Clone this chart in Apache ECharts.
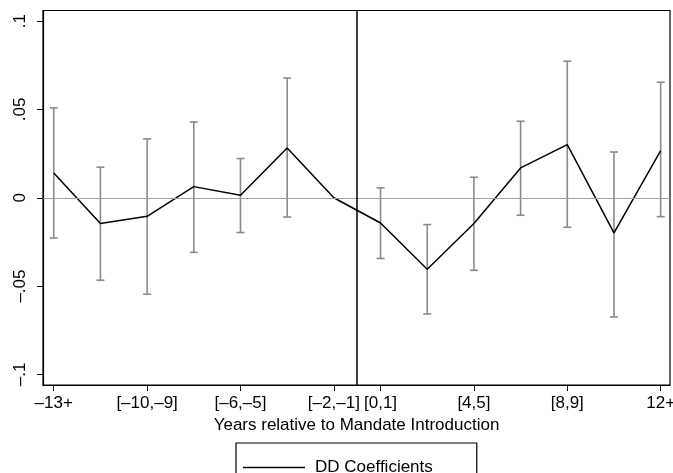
<!DOCTYPE html>
<html>
<head>
<meta charset="utf-8">
<script src="https://cdn.jsdelivr.net/npm/echarts@6/dist/echarts.min.js"></script>
<style>html,body{margin:0;padding:0;background:#fff}#c{width:673px;height:473px}</style>
</head>
<body>
<div id="c"></div>
<script>
const categories = ['–13+','[–12,–11]','[–10,–9]','[–8,–7]','[–6,–5]','[–4,–3]','[–2,–1]','[0,1]','[2,3]','[4,5]','[6,7]','[8,9]','[10,11]','12+'];
const coef  = [0.014, -0.0146, -0.0105, 0.0063, 0.0014, 0.0282, 0.0, -0.0143, -0.0405, -0.0146, 0.0169, 0.0301, -0.0199, 0.0267];
const upper = [0.0509, 0.0173, 0.0333, 0.0429, 0.0222, 0.0678, null, 0.0056, -0.0152, 0.0116, 0.0433, 0.0773, 0.0259, 0.0654];
const lower = [-0.0228, -0.0467, -0.0546, -0.0309, -0.0197, -0.0109, null, -0.0344, -0.0658, -0.0411, -0.0099, -0.0167, -0.0675, -0.0107];
const xTickIdx = [0, 2, 4, 6, 7, 9, 11, 13];
const yTickValues = [-0.1, -0.05, 0, 0.05, 0.1];
const yTickLabels = ['–.1', '–.05', '0', '.05', '.1'];
const legendName = 'DD Coefficients';
const xTitle = 'Years relative to Mandate Introduction';
const mandateBoundary = 6.5;

const font = 'Liberation Sans, Arial, Helvetica, sans-serif';
const fs = 17;
const chart = echarts.init(document.getElementById('c'));

const lineData = categories.map((c, i) => [i, coef[i]]);
const ciData = [];
categories.forEach((c, i) => { if (upper[i] !== null) ciData.push([i, lower[i], upper[i]]); });

chart.setOption({
  animation: false,
  backgroundColor: '#fff',
  textStyle: { fontFamily: font },
  grid: { left: 43, right: 3, top: 10.5, bottom: 88, outerBoundsMode: 'none', containLabel: false,
          show: true, borderColor: '#000', borderWidth: 1.2, backgroundColor: 'transparent' },
  xAxis: {
    type: 'value', min: -0.23, max: 13.2,
    name: xTitle, nameLocation: 'middle', nameGap: 30,
    nameTextStyle: { color: '#000', fontSize: fs, fontFamily: font },
    axisLine: { show: true, onZero: false, lineStyle: { color: '#000', width: 1.2 } },
    axisTick: { show: true, length: 6, lineStyle: { color: '#000' }, customValues: xTickIdx },
    axisLabel: { color: '#000', fontSize: fs, margin: 10, customValues: xTickIdx, hideOverlap: false, formatter: v => categories[Math.round(v)] },
    splitLine: { show: false }
  },
  yAxis: {
    type: 'value', min: -0.106, max: 0.106,
    axisLine: { show: true, onZero: false, lineStyle: { color: '#000', width: 1.2 } },
    axisTick: { show: true, length: 6, lineStyle: { color: '#000' }, customValues: yTickValues },
    axisLabel: { color: '#000', fontSize: fs, rotate: 90, margin: 14, customValues: yTickValues,
      formatter: v => { const k = yTickValues.findIndex(t => Math.abs(t - v) < 1e-9); return k >= 0 ? yTickLabels[k] : ''; } },
    splitLine: { show: false }
  },
  legend: {
    show: true, left: 236, top: 443, orient: 'horizontal',
    data: [{ name: legendName, icon: 'rect', itemStyle: { color: '#000' } }],
    itemWidth: 62, itemHeight: 1.5,
    borderColor: '#000', borderWidth: 1.2, padding: [16, 44, 16, 7],
    textStyle: { color: '#000', fontSize: fs, fontFamily: font, padding: [0, 0, 0, 5] },
    selectedMode: false
  },
  series: [
    {
      type: 'custom', name: 'CI', silent: true, z: 2,
      data: ciData,
      renderItem: function (params, api) {
        const x = api.value(0);
        const lo = api.coord([x, api.value(1)]);
        const hi = api.coord([x, api.value(2)]);
        const w = 4;
        const st = { stroke: '#8a8a8a', lineWidth: 1.6 };
        return { type: 'group', children: [
          { type: 'line', shape: { x1: lo[0], y1: lo[1], x2: hi[0], y2: hi[1] }, style: st },
          { type: 'line', shape: { x1: lo[0] - w, y1: lo[1], x2: lo[0] + w, y2: lo[1] }, style: st },
          { type: 'line', shape: { x1: hi[0] - w, y1: hi[1], x2: hi[0] + w, y2: hi[1] }, style: st }
        ] };
      },
      markLine: {
        silent: true, symbol: 'none', label: { show: false },
        lineStyle: { color: '#a0a0a0', type: 'solid', width: 1.2 },
        data: [{ yAxis: 0 }]
      }
    },
    {
      type: 'line', name: legendName, data: lineData, showSymbol: false, symbol: 'none', z: 3,
      lineStyle: { color: '#000', width: 1.5 }, itemStyle: { color: '#000' },
      markLine: {
        silent: true, symbol: 'none', label: { show: false },
        lineStyle: { color: '#000', type: 'solid', width: 1.5 },
        data: [{ xAxis: mandateBoundary }]
      }
    }
  ]
});
</script>
</body>
</html>
